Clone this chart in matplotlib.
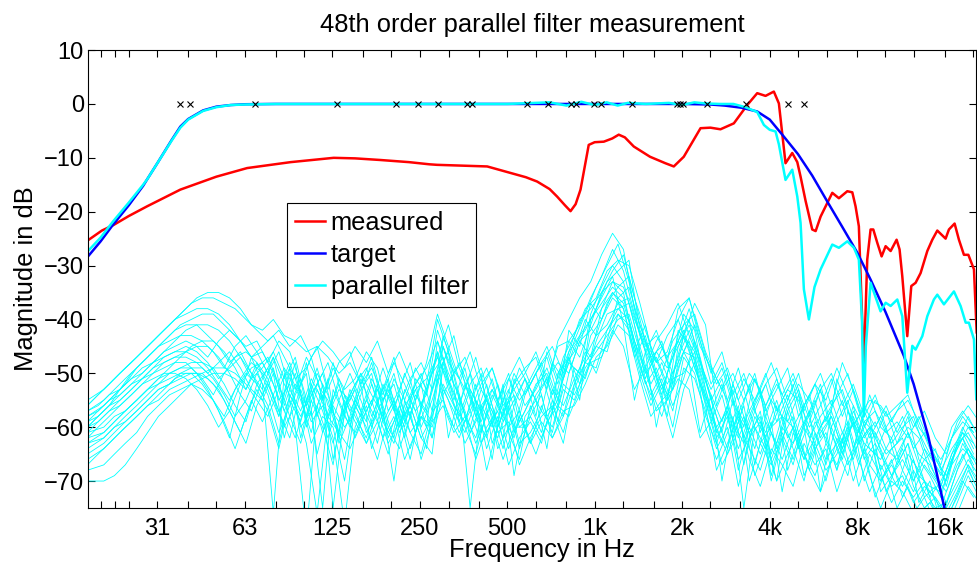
import matplotlib
matplotlib.use('Agg')
import matplotlib.pyplot as plt

plt.rcParams['font.family'] = ['Liberation Sans', 'DejaVu Sans']
plt.rcParams['font.size'] = 17

# measured response (red)
meas_f = [18.1, 20.2, 22.1, 25, 28.9, 37.6, 50, 63.8, 90, 126.6, 150, 183, 230, 270, 287,
          374, 427, 513, 580, 634, 700, 743, 790, 826, 860, 894, 954, 1000, 1075, 1150,
          1210, 1270, 1363, 1550, 1750, 1871, 2025, 2312, 2500, 2708, 3010, 3347, 3622, 3869, 4132,
          4300, 4532, 4780, 4975, 5106, 5313, 5600, 5753, 5984, 6563, 6916, 7391, 7691, 7891, 8100,
          8425, 8656, 8888, 9081, 9375, 9700, 10013, 10419, 10922, 11181, 11425, 11884, 12269, 12694, 13206,
          13928, 14491, 15075, 16100, 16528, 17290, 17891, 18613, 19275, 20153, 20588]
meas_db = [-25.3, -23.5, -22.5, -20.8, -19.0, -15.9, -13.5, -11.9, -10.8, -10.0, -10.1, -10.4, -10.8, -11.2, -11.3,
           -11.5, -11.6, -12.8, -13.6, -14.4, -15.8, -17.2, -18.8, -19.9, -18.6, -15.9, -7.6, -7.1, -7.0, -6.4,
           -5.7, -6.2, -7.9, -9.8, -11.0, -11.6, -9.8, -4.5, -4.4, -4.7, -3.6, -0.2, 2.0, 1.5, 2.3,
           0.1, -11.0, -9.1, -10.8, -13.5, -18.0, -23.3, -23.6, -20.9, -16.5, -17.5, -16.2, -16.4, -19.0, -22.7,
           -48.6, -28.9, -23.3, -23.3, -25.8, -28.3, -26.4, -27.3, -25.2, -27.0, -32.0, -43.1, -33.8, -33.2, -31.4,
           -27.3, -25.2, -23.5, -25.0, -23.3, -22.2, -25.2, -28.0, -28.0, -30.7, -42.4]

# target response (blue)
target_f = [18.1, 20, 22, 25, 28, 28.9, 31.5, 35, 37.6, 40, 45, 50, 56, 63, 80,
            2000, 2500, 2800, 3200, 3622, 4000, 4463, 5000, 5600, 6307, 7100, 8000, 8888, 10000, 11574,
            12500, 14000, 15000, 15888, 16500]
target_db = [-28.3, -25.5, -22.5, -18.8, -15.2, -14.0, -10.8, -6.8, -4.2, -2.8, -1.2, -0.5, -0.2, -0.05, 0,
             0, -0.1, -0.3, -0.7, -1.4, -2.9, -6.0, -9.3, -13.3, -18.1, -22.8, -27.6, -32.6, -38.6, -46.8,
             -52.0, -61.5, -68.5, -74.6, -79.0]

# parallel filter total response (cyan, thick)
par_f = [18.1, 20, 22, 25, 28, 28.9, 31.5, 35, 37.6, 40, 45, 50, 56, 63, 80,
         125, 250, 500, 700, 800, 900, 1000, 1100, 1200, 1300, 1500, 1800, 2000, 2200, 2400,
         2700, 3000, 3300, 3622, 3819, 4000, 4188, 4300, 4532, 4780, 4975, 5106, 5241, 5453, 5700,
         5984, 6563, 6916, 7391, 7793, 8100, 8300, 8425, 8560, 8888, 9619, 10013, 10419, 10982, 11425,
         11884, 12369, 12694, 13388, 13928, 14672, 15075, 15888, 17197, 18128, 18875, 19363, 20153, 20530]
par_db = [-27.3, -24.8, -21.9, -18.3, -15.0, -14.0, -10.8, -6.9, -4.4, -2.9, -1.3, -0.6, -0.2, -0.1, 0,
          0, 0, 0, 0.3, -0.3, 0.4, -0.2, 0.3, -0.3, 0.2, 0, 0.2, -0.2, 0.3, 0.1,
          0, 0, -0.6, -1.5, -3.9, -4.8, -5.1, -7.5, -14.1, -12.2, -17.2, -22.1, -34.4, -40.0, -34.0,
          -30.7, -26.1, -26.7, -25.5, -26.7, -28.9, -40.0, -58.0, -45.0, -33.2, -38.5, -36.9, -37.5, -36.3, -39.4,
          -53.6, -44.9, -45.6, -43.1, -39.4, -36.3, -35.4, -37.2, -34.8, -37.5, -40.6, -40.6, -43.7, -54.8]

# pole frequencies (x markers at 0 dB)
pole_f = [37.6, 40.5, 67.7, 130, 208, 247, 289, 364, 379, 586, 692, 826, 864, 993, 1053,
          1349, 1922, 1962, 2016, 2425, 3302, 4616, 5241]
pole_db = [0] * len(pole_f)

# frequency grids of the individual section responses
grid_a = [18.0, 19.6, 21.4, 23.3, 25.5, 27.8, 30.3, 33.0,
          36.0, 39.3, 42.8, 46.7, 50.9, 55.5, 60.5, 66.0,
          72.0, 78.5, 85.6, 93.4, 102, 111, 121, 132,
          144, 157, 171, 187, 204, 222, 242, 264,
          288, 314, 342, 373, 407, 444, 484, 528,
          576, 628, 685, 747, 815, 888, 969, 1056,
          1152, 1256, 1370, 1494, 1629, 1777, 1937, 2113,
          2304, 2513, 2740, 2988, 3258, 3553, 3875, 4226,
          4608, 5025, 5480, 5976, 6517, 7106, 7750, 8451,
          9216, 10050, 10960, 11950, 13030, 14210, 15500, 16900,
          18430, 20100]
grid_b = [18.0, 20.5, 22.3, 24.3, 26.6, 29.0, 31.6, 34.5,
          37.6, 41.0, 44.7, 48.8, 53.2, 58.0, 63.2, 68.9,
          75.2, 82.0, 89.4, 97.5, 106, 116, 126, 138,
          150, 164, 179, 195, 213, 232, 253, 276,
          301, 328, 358, 390, 425, 464, 506, 551,
          601, 656, 715, 780, 851, 928, 1012, 1103,
          1203, 1312, 1431, 1560, 1701, 1856, 2023, 2207,
          2406, 2624, 2861, 3120, 3402, 3711, 4047, 4413,
          4812, 5248, 5723, 6241, 6806, 7421, 8093, 8825,
          9624, 10495, 11445, 12481, 13611, 14842, 16186, 17651,
          19248, 20990]

sec01 = [-56, -54, -52, -50, -48, -46, -44, -42, -40, -38, -36, -35, -35, -36, -38, -41,
         -42, -40, -43, -44, -46, -45, -47, -50, -48, -52, -47, -55, -50, -58, -52, -49,
         -44, -51, -56, -50, -61, -54, -58, -52, -49, -47, -53, -44, -40, -36, -33, -28,
         -24, -27, -38, -44, -48, -46, -40, -36, -44, -52, -48, -55, -60, -51, -57, -53,
         -49, -58, -54, -50, -56, -48, -53, -60, -55, -58, -56, -54, -60, -63, -66, -62, -59, -61]
sec02 = [-58, -56, -54, -52, -49, -47, -45, -43, -41, -40, -39, -39, -41, -43, -45, -44,
         -48, -44, -46, -52, -47, -55, -49, -53, -51, -46, -49, -57, -53, -48, -56, -50,
         -47, -55, -49, -58, -52, -60, -55, -49, -53, -57, -48, -51, -45, -42, -38, -33,
         -31, -29, -42, -47, -45, -50, -43, -37, -41, -56, -50, -59, -52, -61, -55, -58,
         -52, -60, -55, -63, -51, -57, -61, -54, -60, -62, -58, -64, -61, -66, -69, -64, -60, -63]
sec03 = [-60, -58, -56, -53, -50, -48, -46, -44, -42, -41, -41, -43, -45, -48, -46, -50,
         -53, -47, -56, -50, -58, -52, -55, -62, -54, -50, -58, -53, -47, -55, -61, -52,
         -40, -46, -55, -60, -53, -57, -64, -56, -51, -58, -46, -52, -44, -47, -41, -35,
         -33, -35, -45, -52, -49, -55, -42, -45, -50, -58, -63, -55, -67, -58, -62, -70,
         -57, -64, -59, -53, -61, -66, -58, -63, -65, -60, -67, -63, -69, -71, -72, -67, -64, -66]
sec04 = [-63, -61, -59, -57, -55, -53, -51, -49, -47, -45, -44, -44, -46, -49, -53, -48,
         -51, -58, -49, -62, -54, -50, -57, -66, -55, -59, -52, -62, -56, -51, -60, -55,
         -48, -43, -52, -58, -62, -55, -50, -59, -55, -50, -57, -49, -46, -40, -43, -37,
         -34, -32, -40, -48, -53, -47, -39, -42, -53, -60, -57, -64, -58, -53, -66, -60,
         -63, -56, -61, -67, -59, -55, -62, -58, -68, -64, -62, -70, -66, -64, -71, -63, -61, -65]
sec05 = [-59, -57, -55, -53, -51, -49, -48, -46, -45, -44, -45, -47, -44, -42, -44, -47,
         -46, -50, -55, -48, -60, -53, -58, -51, -57, -53, -50, -59, -55, -62, -54, -57,
         -50, -46, -59, -53, -57, -66, -53, -61, -57, -52, -50, -56, -42, -45, -37, -40,
         -36, -38, -47, -43, -51, -58, -45, -41, -47, -55, -61, -52, -58, -64, -56, -51,
         -59, -54, -66, -60, -57, -63, -56, -65, -61, -68, -65, -61, -67, -73, -70, -66, -62, -68]
sec06 = [-70, -70, -69, -67, -64, -61, -58, -56, -54, -52, -51, -50, -50, -51, -53, -49,
         -47, -52, -58, -63, -55, -60, -67, -54, -58, -62, -55, -61, -57, -64, -58, -60,
         -53, -57, -61, -55, -64, -58, -67, -62, -59, -63, -55, -58, -49, -51, -44, -39,
         -38, -40, -48, -55, -51, -57, -47, -50, -58, -63, -57, -68, -60, -65, -59, -72,
         -61, -66, -62, -58, -64, -69, -60, -67, -70, -66, -73, -68, -72, -75, -74, -70, -66, -69]
sec07 = [-62, -60, -58, -56, -54, -52, -50, -49, -48, -48, -50, -53, -57, -62, -54, -47,
         -52, -76, -50, -60, -80, -56, -62, -55, -60, -52, -64, -57, -70, -55, -61, -53,
         -46, -62, -54, -75, -56, -60, -52, -69, -58, -55, -64, -50, -47, -55, -40, -36,
         -32, -41, -55, -46, -60, -50, -44, -48, -61, -54, -70, -58, -75, -60, -64, -56,
         -68, -62, -57, -72, -60, -65, -59, -70, -64, -72, -67, -63, -74, -70, -78, -71, -65, -70]
sec08 = [-57, -55, -53, -51, -49, -47, -45, -44, -43, -43, -44, -46, -49, -45, -43, -46,
         -50, -46, -53, -57, -51, -55, -48, -56, -52, -49, -55, -51, -60, -54, -50, -57,
         -43, -49, -53, -47, -55, -59, -51, -55, -52, -48, -54, -47, -43, -38, -36, -31,
         -29, -30, -37, -45, -50, -44, -41, -39, -46, -51, -55, -49, -57, -53, -60, -55,
         -51, -57, -52, -59, -54, -50, -57, -62, -58, -63, -60, -58, -64, -67, -70, -63, -58, -62]
sec09 = [-61, -59, -57, -55, -53, -51, -50, -48, -47, -47, -48, -50, -48, -46, -49, -53,
         -55, -50, -62, -54, -50, -65, -57, -52, -59, -54, -48, -56, -62, -53, -57, -64,
         -51, -58, -62, -56, -50, -63, -57, -54, -60, -54, -51, -59, -50, -44, -47, -38,
         -35, -37, -44, -50, -47, -52, -48, -44, -52, -59, -54, -62, -56, -67, -59, -63,
         -56, -62, -68, -61, -58, -64, -59, -66, -63, -67, -71, -65, -68, -72, -75, -69, -63, -67]
sec10 = [-64, -62, -60, -58, -56, -54, -52, -50, -49, -48, -48, -49, -52, -56, -59, -52,
         -49, -55, -52, -60, -57, -75, -53, -58, -61, -56, -63, -54, -58, -66, -56, -59,
         -45, -52, -57, -63, -58, -52, -61, -66, -56, -61, -53, -56, -51, -47, -43, -41,
         -37, -36, -43, -49, -55, -53, -46, -47, -55, -62, -58, -66, -62, -57, -69, -61,
         -66, -60, -64, -70, -62, -67, -63, -60, -72, -69, -64, -71, -75, -73, -76, -72, -67, -71]
sec11 = [-58, -57, -55, -54, -52, -51, -49, -47, -46, -45, -46, -48, -51, -49, -47, -50,
         -54, -49, -57, -52, -56, -50, -54, -61, -53, -57, -51, -55, -52, -59, -53, -51,
         -47, -41, -49, -54, -59, -53, -57, -50, -54, -50, -47, -54, -48, -50, -39, -34,
         -30, -33, -41, -51, -46, -49, -45, -40, -49, -54, -59, -53, -62, -56, -52, -59,
         -54, -61, -57, -52, -60, -55, -64, -57, -62, -57, -63, -60, -62, -68, -71, -65, -60, -64]
sec12 = [-66, -64, -62, -60, -58, -56, -55, -53, -52, -51, -50, -49, -49, -50, -52, -55,
         -58, -53, -48, -54, -63, -58, -60, -70, -56, -60, -66, -58, -54, -61, -65, -57,
         -55, -60, -52, -57, -68, -60, -55, -63, -61, -57, -60, -53, -55, -49, -46, -43,
         -40, -39, -46, -53, -58, -51, -50, -46, -60, -66, -61, -56, -70, -63, -67, -62,
         -58, -69, -64, -61, -68, -62, -71, -65, -69, -74, -70, -73, -70, -76, -77, -73, -68, -72]
sec13 = [-60, -58, -56, -54, -52, -50, -48, -46, -44, -42, -41, -41, -42, -44, -47, -51,
         -49, -46, -51, -47, -56, -52, -48, -55, -50, -55, -60, -52, -57, -50, -55, -48,
         -39, -45, -51, -57, -52, -49, -56, -53, -50, -46, -52, -45, -44, -41, -36, -32,
         -27, -31, -39, -46, -42, -48, -38, -36, -43, -50, -46, -54, -50, -57, -52, -49,
         -55, -50, -58, -53, -50, -56, -52, -58, -54, -60, -57, -55, -59, -64, -67, -60, -57, -60]
sec14 = [-65, -63, -61, -59, -57, -55, -53, -52, -50, -49, -49, -51, -54, -58, -55, -50,
         -54, -61, -56, -51, -58, -54, -75, -57, -53, -61, -57, -63, -59, -56, -62, -58,
         -52, -56, -63, -59, -55, -61, -59, -67, -62, -58, -56, -61, -53, -48, -49, -42,
         -39, -42, -50, -56, -52, -60, -49, -51, -57, -64, -60, -71, -62, -59, -65, -58,
         -64, -70, -61, -66, -63, -59, -66, -72, -67, -71, -69, -74, -71, -73, -79, -74, -69, -73]
sec15 = [-56, -54, -52, -50, -48, -46, -44, -42, -40, -39, -38, -38, -39, -41, -44, -47,
         -45, -43, -47, -51, -49, -45, -53, -48, -46, -52, -49, -54, -48, -52, -57, -54,
         -42, -48, -51, -46, -53, -49, -55, -60, -53, -49, -45, -51, -46, -43, -40, -37,
         -34, -36, -44, -49, -44, -41, -37, -43, -48, -53, -49, -56, -51, -55, -50, -57,
         -53, -55, -60, -56, -51, -58, -53, -59, -57, -61, -59, -62, -58, -63, -68, -64, -61, -63]
sec16 = [-62, -61, -59, -57, -55, -53, -51, -50, -49, -49, -51, -54, -50, -47, -46, -48,
         -53, -58, -50, -55, -61, -52, -66, -56, -62, -57, -53, -60, -64, -58, -52, -62,
         -49, -54, -60, -65, -57, -62, -56, -64, -58, -62, -57, -63, -52, -46, -50, -44,
         -36, -34, -41, -47, -54, -46, -42, -49, -54, -60, -65, -59, -64, -68, -61, -66,
         -60, -65, -69, -63, -67, -61, -58, -64, -66, -62, -68, -72, -67, -70, -74, -68, -64, -67]
sec17 = [-59, -58, -56, -55, -53, -51, -49, -48, -47, -46, -45, -45, -47, -50, -54, -57,
         -51, -47, -52, -56, -48, -58, -51, -63, -58, -51, -56, -49, -55, -60, -51, -54,
         -46, -53, -58, -52, -49, -56, -62, -51, -56, -53, -49, -55, -46, -40, -38, -35,
         -31, -28, -36, -42, -48, -43, -40, -46, -52, -57, -52, -60, -55, -50, -58, -64,
         -57, -53, -62, -58, -55, -61, -66, -59, -61, -65, -63, -58, -66, -69, -73, -66, -61, -65]
sec18 = [-68, -67, -65, -63, -61, -58, -56, -54, -53, -52, -53, -55, -58, -53, -50, -52,
         -56, -63, -54, -58, -53, -61, -56, -60, -57, -63, -59, -52, -61, -57, -66, -59,
         -56, -61, -58, -66, -60, -57, -64, -58, -63, -59, -62, -57, -56, -52, -47, -45,
         -41, -43, -51, -58, -55, -62, -53, -48, -56, -68, -63, -58, -66, -71, -64, -67,
         -71, -63, -67, -64, -72, -66, -62, -69, -75, -70, -72, -76, -73, -78, -80, -76, -71, -74]
sec19 = [-57, -56, -54, -53, -51, -50, -48, -47, -46, -46, -47, -49, -52, -55, -51, -48,
         -50, -54, -49, -53, -47, -51, -58, -53, -55, -50, -54, -58, -51, -55, -49, -53,
         -47, -52, -48, -53, -57, -51, -59, -55, -51, -55, -51, -48, -50, -44, -42, -38,
         -33, -34, -40, -45, -43, -47, -44, -38, -45, -49, -53, -50, -55, -51, -56, -52,
         -56, -52, -55, -60, -56, -53, -60, -56, -60, -56, -61, -57, -61, -65, -69, -62, -58, -61]
sec20 = [-63, -62, -60, -59, -57, -55, -53, -52, -51, -50, -50, -52, -55, -59, -63, -56,
         -52, -57, -62, -53, -59, -56, -62, -78, -60, -55, -59, -65, -56, -61, -58, -62,
         -54, -50, -58, -62, -54, -64, -60, -57, -63, -56, -61, -52, -54, -50, -45, -46,
         -39, -41, -49, -54, -50, -56, -51, -44, -51, -58, -64, -57, -61, -58, -70, -62,
         -67, -59, -63, -68, -65, -60, -67, -61, -70, -67, -71, -66, -73, -71, -75, -71, -67, -70]
sec21 = [-60, -59, -57, -56, -54, -52, -51, -50, -50, -51, -53, -56, -60, -57, -52, -49,
         -48, -52, -57, -62, -55, -49, -56, -59, -54, -58, -52, -59, -63, -56, -53, -60,
         -44, -50, -54, -61, -56, -53, -58, -62, -54, -50, -58, -55, -47, -52, -43, -40,
         -35, -38, -46, -41, -50, -54, -47, -42, -48, -55, -51, -59, -63, -57, -61, -55,
         -62, -58, -54, -62, -58, -64, -57, -62, -59, -64, -66, -61, -65, -67, -71, -65, -62, -66]
sec22 = [-55, -53, -51, -49, -47, -45, -43, -41, -39, -37, -36, -36, -37, -38, -40, -42,
         -44, -42, -45, -43, -47, -44, -46, -49, -45, -48, -44, -50, -46, -51, -48, -53,
         -45, -50, -47, -53, -49, -55, -51, -47, -52, -48, -45, -50, -44, -39, -34, -30,
         -26, -33, -43, -48, -44, -52, -46, -41, -47, -52, -49, -55, -50, -53, -48, -54,
         -50, -56, -52, -55, -49, -54, -58, -55, -56, -59, -55, -60, -57, -62, -65, -59, -56, -59]
sec23 = [-67, -65, -63, -61, -59, -57, -55, -53, -51, -50, -50, -51, -53, -57, -61, -55,
         -59, -54, -60, -56, -63, -76, -58, -61, -64, -59, -55, -62, -58, -66, -61, -56,
         -50, -55, -61, -57, -63, -59, -66, -60, -60, -65, -59, -56, -58, -53, -48, -47,
         -42, -45, -53, -49, -57, -55, -51, -53, -62, -59, -67, -63, -58, -69, -63, -70,
         -65, -61, -68, -72, -66, -62, -70, -64, -73, -68, -75, -71, -76, -74, -78, -75, -70, -73]
sec24 = [-61, -60, -58, -57, -55, -53, -52, -51, -50, -50, -52, -55, -59, -64, -58, -53,
         -57, -64, -55, -59, -52, -57, -63, -55, -59, -63, -57, -53, -60, -56, -62, -65,
         -48, -56, -59, -52, -61, -57, -53, -60, -58, -54, -62, -58, -52, -48, -45, -42,
         -38, -37, -45, -52, -48, -53, -43, -46, -53, -61, -56, -62, -57, -63, -60, -58,
         -60, -66, -59, -62, -68, -57, -63, -60, -64, -69, -66, -70, -64, -69, -72, -67, -64, -68]

sections = [sec01, sec02, sec03, sec04, sec05, sec06, sec07, sec08, sec09, sec10, sec11, sec12,
            sec13, sec14, sec15, sec16, sec17, sec18, sec19, sec20, sec21, sec22, sec23, sec24]

octave_ticks = [31.25, 62.5, 125, 250, 500, 1000, 2000, 4000, 8000, 16000]
octave_labels = ['31', '63', '125', '250', '500', '1k', '2k', '4k', '8k', '16k']
third_ticks = [20, 22.4, 25, 40, 50, 80, 100, 160, 200, 315, 400, 630, 800, 1250, 1600,
               2500, 3150, 5000, 6300, 10000, 12500, 20000]

fig = plt.figure(figsize=(9.77, 5.66), dpi=100)
ax = fig.add_axes([0.0901, 0.1025, 0.909, 0.809])

for i, sec in enumerate(sections):
    g = grid_a if i % 2 == 0 else grid_b
    ax.plot(g, sec, color=(0, 1, 1), lw=0.6)

l1, = ax.plot(meas_f, meas_db, color=(1, 0, 0), lw=1.8)
l2, = ax.plot(target_f, target_db, color=(0, 0, 1), lw=1.8)
l3, = ax.plot(par_f, par_db, color=(0, 1, 1), lw=1.8)
ax.plot(pole_f, pole_db, 'x', color='k', ms=4, mew=0.8)

ax.set_xscale('log')
ax.set_xlim(18.1, 20500)
ax.set_ylim(-75, 10)
ax.set_xticks(octave_ticks)
ax.set_xticklabels(octave_labels)
ax.set_xticks(third_ticks, minor=True)
ax.set_xticklabels([], minor=True)
ax.set_yticks(range(-70, 11, 10))
ax.tick_params(which='both', direction='in', top=True, right=True, length=5, width=0.8)
ax.tick_params(axis='y', pad=3)
ax.tick_params(axis='x', pad=7)
for s in ax.spines.values():
    s.set_linewidth(0.8)

ax.set_title('48th order parallel filter measurement', fontsize=18.4, pad=13)
ax.set_xlabel('Frequency in Hz', fontsize=18.4, labelpad=0)
ax.xaxis.set_label_coords(0.511, -0.065)
ax.set_ylabel('Magnitude in dB', fontsize=18.4, labelpad=4)

leg = ax.legend([l1, l2, l3], ['measured', 'target', 'parallel filter'],
                loc='upper left', bbox_to_anchor=(0.224, 0.666), borderaxespad=0,
                fancybox=False, framealpha=1, edgecolor='k', fontsize=18.3,
                handlelength=1.18, handletextpad=0.24, labelspacing=0.32, borderpad=0.3)
leg.get_frame().set_linewidth(0.8)

fig.savefig('out.png', dpi=100)
